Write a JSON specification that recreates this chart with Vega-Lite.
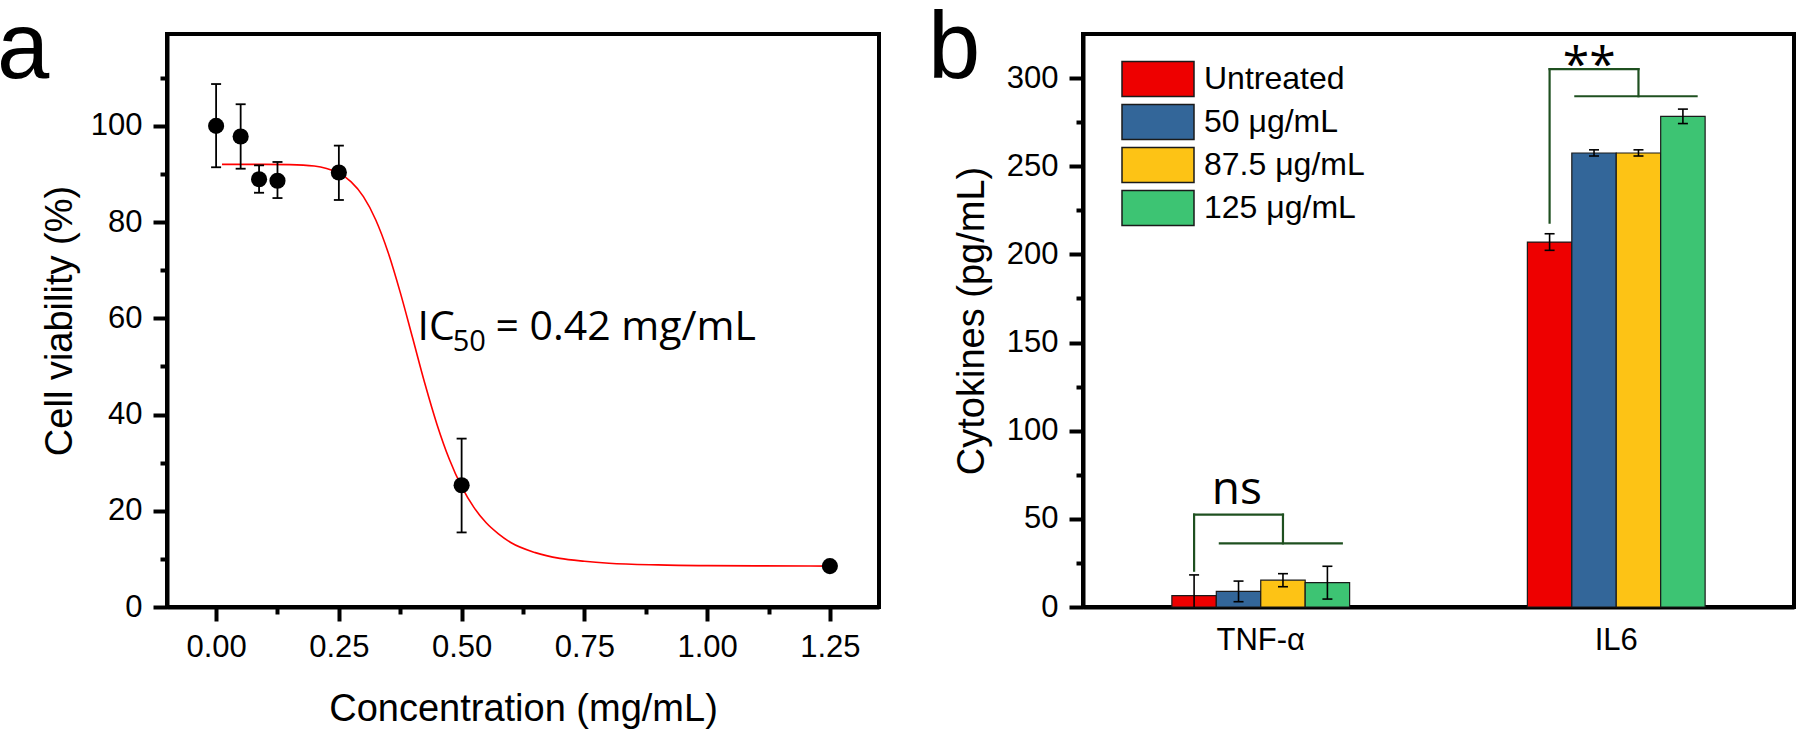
{
  "$schema": "https://vega.github.io/schema/vega-lite/v6.json",
  "background": "white",
  "padding": {"left": -5, "top": 0, "right": 0, "bottom": 0},
  "bounds": "flush",
  "spacing": 204,
  "config": {
    "font": "Liberation Sans",
    "view": {"stroke": "black", "strokeWidth": 4},
    "axis": {
      "domainColor": "black", "domainWidth": 4, "tickColor": "black", "tickWidth": 4,
      "labelColor": "black", "labelFont": "Liberation Sans", "labelFontSize": 31,
      "titleFont": "Liberation Sans", "titleFontSize": 38, "titleFontWeight": "normal", "titleColor": "black",
      "grid": false, "labelPadding": 11, "labelFlush": false, "labelOverlap": false
    }
  },
  "datasets": {
    "fit": [
      {"conc": 0.012, "v": 92.0}, {"conc": 0.05, "v": 92.0}, {"conc": 0.1, "v": 92.0}, {"conc": 0.15, "v": 91.95},
      {"conc": 0.2, "v": 91.65}, {"conc": 0.225, "v": 91.15}, {"conc": 0.25, "v": 90.2}, {"conc": 0.275, "v": 88.35},
      {"conc": 0.3, "v": 85.3}, {"conc": 0.325, "v": 80.5}, {"conc": 0.35, "v": 73.8}, {"conc": 0.375, "v": 65.4},
      {"conc": 0.4, "v": 56.0}, {"conc": 0.425, "v": 46.5}, {"conc": 0.45, "v": 37.9}, {"conc": 0.475, "v": 30.7},
      {"conc": 0.5, "v": 25.0}, {"conc": 0.525, "v": 20.7}, {"conc": 0.55, "v": 17.5}, {"conc": 0.575, "v": 15.2},
      {"conc": 0.6, "v": 13.4}, {"conc": 0.65, "v": 11.3}, {"conc": 0.7, "v": 10.1}, {"conc": 0.75, "v": 9.5},
      {"conc": 0.8, "v": 9.1}, {"conc": 0.9, "v": 8.75}, {"conc": 1.0, "v": 8.6}, {"conc": 1.1, "v": 8.55},
      {"conc": 1.25, "v": 8.5}
    ],
    "viability": [
      {"conc": 0.0, "v": 100.0, "lo": 91.4, "hi": 108.7},
      {"conc": 0.05, "v": 97.8, "lo": 91.1, "hi": 104.5},
      {"conc": 0.0875, "v": 88.9, "lo": 86.1, "hi": 91.8},
      {"conc": 0.125, "v": 88.6, "lo": 85.0, "hi": 92.5},
      {"conc": 0.25, "v": 90.3, "lo": 84.6, "hi": 95.9},
      {"conc": 0.5, "v": 25.3, "lo": 15.5, "hi": 35.0},
      {"conc": 1.25, "v": 8.5, "lo": 8.0, "hi": 9.0}
    ],
    "cytokines": [
      {"cytokine": "TNF-α", "treatment": "Untreated", "value": 6.4, "lo": -5.4, "hi": 18.2},
      {"cytokine": "TNF-α", "treatment": "50 μg/mL", "value": 8.9, "lo": 3.0, "hi": 14.7},
      {"cytokine": "TNF-α", "treatment": "87.5 μg/mL", "value": 15.2, "lo": 11.5, "hi": 18.9},
      {"cytokine": "TNF-α", "treatment": "125 μg/mL", "value": 13.8, "lo": 4.5, "hi": 23.1},
      {"cytokine": "IL6", "treatment": "Untreated", "value": 207.0, "lo": 202.3, "hi": 211.7},
      {"cytokine": "IL6", "treatment": "50 μg/mL", "value": 257.5, "lo": 255.8, "hi": 259.3},
      {"cytokine": "IL6", "treatment": "87.5 μg/mL", "value": 257.5, "lo": 255.8, "hi": 259.3},
      {"cytokine": "IL6", "treatment": "125 μg/mL", "value": 278.3, "lo": 274.2, "hi": 282.4}
    ],
    "brackets": [
      {"bx": 0.3125, "bx2": 0.3125, "by": 20.6, "by2": 52.4},
      {"bx": 0.3125, "bx2": 0.5625, "by": 52.4, "by2": 52.4},
      {"bx": 0.5625, "bx2": 0.5625, "by": 52.4, "by2": 36.1},
      {"bx": 0.385, "bx2": 0.728, "by": 36.1, "by2": 36.1},
      {"bx": 1.3125, "bx2": 1.3125, "by": 218.0, "by2": 305.1},
      {"bx": 1.3125, "bx2": 1.5625, "by": 305.1, "by2": 305.1},
      {"bx": 1.5625, "bx2": 1.5625, "by": 305.1, "by2": 289.7},
      {"bx": 1.385, "bx2": 1.726, "by": 289.7, "by2": 289.7}
    ],
    "sig": [
      {"bx": 0.433, "by": 58.4, "label": "ns"},
      {"bx": 1.424, "by": 298.5, "label": "**"}
    ]
  },
  "hconcat": [
    {
      "width": 712,
      "height": 573,
      "encoding": {
        "x": {"field": "conc", "type": "quantitative",
              "scale": {"domain": [-0.1, 1.35], "nice": false, "zero": false},
              "axis": {"title": "Concentration (mg/mL)", "titlePadding": 28,
                       "values": [0, 0.125, 0.25, 0.375, 0.5, 0.625, 0.75, 0.875, 1.0, 1.125, 1.25],
                       "labelExpr": "abs(datum.value*4 - round(datum.value*4)) > 0.01 ? '' : format(datum.value, '.2f')",
                       "tickSize": {"condition": {"test": "abs(datum.value*4 - round(datum.value*4)) > 0.01", "value": 7}, "value": 14}}},
        "y": {"field": "v", "type": "quantitative",
              "scale": {"domain": [0, 119.1], "nice": false},
              "axis": {"title": "Cell viability (%)", "titlePadding": 11,
                       "values": [0, 10, 20, 30, 40, 50, 60, 70, 80, 90, 100, 110],
                       "labelExpr": "datum.value % 20 != 0 ? '' : format(datum.value, 'd')",
                       "tickSize": {"condition": {"test": "datum.value % 20 != 0", "value": 7}, "value": 14}}}
      },
      "layer": [
        {"data": {"name": "fit"}, "mark": {"type": "line", "color": "#FF0000", "strokeWidth": 1.6, "interpolate": "monotone"}},
        {"data": {"name": "viability"}, "mark": {"type": "rule", "color": "black", "strokeWidth": 1.8},
         "encoding": {"y": {"field": "lo", "type": "quantitative"}, "y2": {"field": "hi"}}},
        {"data": {"name": "viability"}, "mark": {"type": "point", "shape": "M-1,0H1", "size": 100, "stroke": "black", "strokeWidth": 1.8, "filled": false, "opacity": 1},
         "encoding": {"y": {"field": "lo", "type": "quantitative"}}},
        {"data": {"name": "viability"}, "mark": {"type": "point", "shape": "M-1,0H1", "size": 100, "stroke": "black", "strokeWidth": 1.8, "filled": false, "opacity": 1},
         "encoding": {"y": {"field": "hi", "type": "quantitative"}}},
        {"data": {"name": "viability"}, "mark": {"type": "circle", "size": 260, "color": "black", "opacity": 1}},
        {"data": {"values": [{"conc": 0.41, "v": 55.4, "label": "IC"}]},
         "mark": {"type": "text", "font": "Open Sans", "fontSize": 41, "align": "left", "baseline": "alphabetic", "color": "black"},
         "encoding": {"text": {"field": "label"}}},
        {"data": {"values": [{"conc": 0.482, "v": 53.3, "label": "50"}]},
         "mark": {"type": "text", "font": "Open Sans", "fontSize": 29, "align": "left", "baseline": "alphabetic", "color": "black"},
         "encoding": {"text": {"field": "label"}}},
        {"data": {"values": [{"conc": 0.569, "v": 55.4, "label": "= 0.42 mg/mL"}]},
         "mark": {"type": "text", "font": "Open Sans", "fontSize": 41, "align": "left", "baseline": "alphabetic", "color": "black"},
         "encoding": {"text": {"field": "label"}}},
        {"data": {"values": [{"conc": -0.4462, "v": 110.0, "label": "a"}]},
         "mark": {"type": "text", "font": "Liberation Sans", "fontSize": 94, "align": "left", "baseline": "alphabetic", "color": "black"},
         "encoding": {"text": {"field": "label"}}}
      ]
    },
    {
      "width": 711,
      "height": 573,
      "layer": [
        {
          "data": {"name": "cytokines"},
          "encoding": {
            "x": {"field": "cytokine", "type": "nominal", "sort": ["TNF-α", "IL6"],
                  "scale": {"paddingInner": 0.5, "paddingOuter": 0.25},
                  "axis": {"title": null, "ticks": false, "tickSize": 0, "labelAngle": 0, "labelPadding": 18}},
            "xOffset": {"field": "treatment", "type": "nominal", "sort": ["Untreated", "50 μg/mL", "87.5 μg/mL", "125 μg/mL"],
                        "scale": {"paddingInner": 0, "paddingOuter": 0}},
            "y": {"field": "value", "type": "quantitative",
                  "scale": {"domain": [0, 325], "nice": false},
                  "axis": {"title": "Cytokines (pg/mL)", "titlePadding": 15,
                           "values": [0, 25, 50, 75, 100, 125, 150, 175, 200, 225, 250, 275, 300],
                           "labelExpr": "datum.value % 50 != 0 ? '' : format(datum.value, 'd')",
                           "tickSize": {"condition": {"test": "datum.value % 50 != 0", "value": 7}, "value": 14}}}
          },
          "layer": [
            {"mark": {"type": "bar", "stroke": "#1a1a1a", "strokeWidth": 1.2},
             "encoding": {"color": {"field": "treatment", "type": "nominal",
                "scale": {"domain": ["Untreated", "50 μg/mL", "87.5 μg/mL", "125 μg/mL"],
                          "range": ["#EE0000", "#336699", "#FDC315", "#3DC473"]},
                "legend": {"title": null, "orient": "none", "legendX": 972, "legendY": 26,
                           "symbolType": "M-2,-0.972H2V0.972H-2Z", "symbolSize": 1296,
                           "symbolStrokeColor": "#1a1a1a", "symbolStrokeWidth": 1.5, "symbolOpacity": 1,
                           "labelFontSize": 32, "labelFont": "Liberation Sans", "labelColor": "black", "labelLimit": 400,
                           "labelOffset": 27, "rowPadding": 1, "padding": 0}}}},
            {"mark": {"type": "rule", "color": "black", "strokeWidth": 1.6, "clip": true},
             "encoding": {"y": {"field": "lo", "type": "quantitative"}, "y2": {"field": "hi"}}},
            {"mark": {"type": "point", "shape": "M-1,0H1", "size": 100, "stroke": "black", "strokeWidth": 1.6, "filled": false, "opacity": 1, "clip": true},
             "encoding": {"y": {"field": "lo", "type": "quantitative"}}},
            {"mark": {"type": "point", "shape": "M-1,0H1", "size": 100, "stroke": "black", "strokeWidth": 1.6, "filled": false, "opacity": 1, "clip": true},
             "encoding": {"y": {"field": "hi", "type": "quantitative"}}}
          ]
        },
        {
          "data": {"name": "brackets"},
          "mark": {"type": "rule", "color": "#1F5020", "strokeWidth": 2.2, "strokeCap": "square"},
          "encoding": {
            "x": {"field": "bx", "type": "quantitative", "scale": {"domain": [0, 2], "nice": false, "zero": false}, "axis": null},
            "x2": {"field": "bx2"},
            "y": {"field": "by", "type": "quantitative"},
            "y2": {"field": "by2"}
          }
        },
        {
          "data": {"name": "sig"},
          "transform": [{"filter": "datum.label == 'ns'"}],
          "mark": {"type": "text", "font": "Open Sans", "fontSize": 46, "align": "center", "baseline": "alphabetic", "color": "black"},
          "encoding": {
            "x": {"field": "bx", "type": "quantitative", "scale": {"domain": [0, 2], "nice": false, "zero": false}, "axis": null},
            "y": {"field": "by", "type": "quantitative"},
            "text": {"field": "label"}
          }
        },
        {
          "data": {"name": "sig"},
          "transform": [{"filter": "datum.label == '**'"}],
          "mark": {"type": "text", "font": "Open Sans", "fontSize": 48, "align": "center", "baseline": "alphabetic", "color": "black"},
          "encoding": {
            "x": {"field": "bx", "type": "quantitative", "scale": {"domain": [0, 2], "nice": false, "zero": false}, "axis": null},
            "y": {"field": "by", "type": "quantitative"},
            "text": {"field": "label"}
          }
        },
        {
          "data": {"values": [{"bx": -0.436, "by": 300.3, "label": "b"}]},
          "mark": {"type": "text", "font": "Liberation Sans", "fontSize": 94, "align": "left", "baseline": "alphabetic", "color": "black"},
          "encoding": {
            "x": {"field": "bx", "type": "quantitative", "scale": {"domain": [0, 2], "nice": false, "zero": false}, "axis": null},
            "y": {"field": "by", "type": "quantitative"},
            "text": {"field": "label"}
          }
        }
      ],
      "resolve": {"scale": {"x": "independent"}}
    }
  ]
}
